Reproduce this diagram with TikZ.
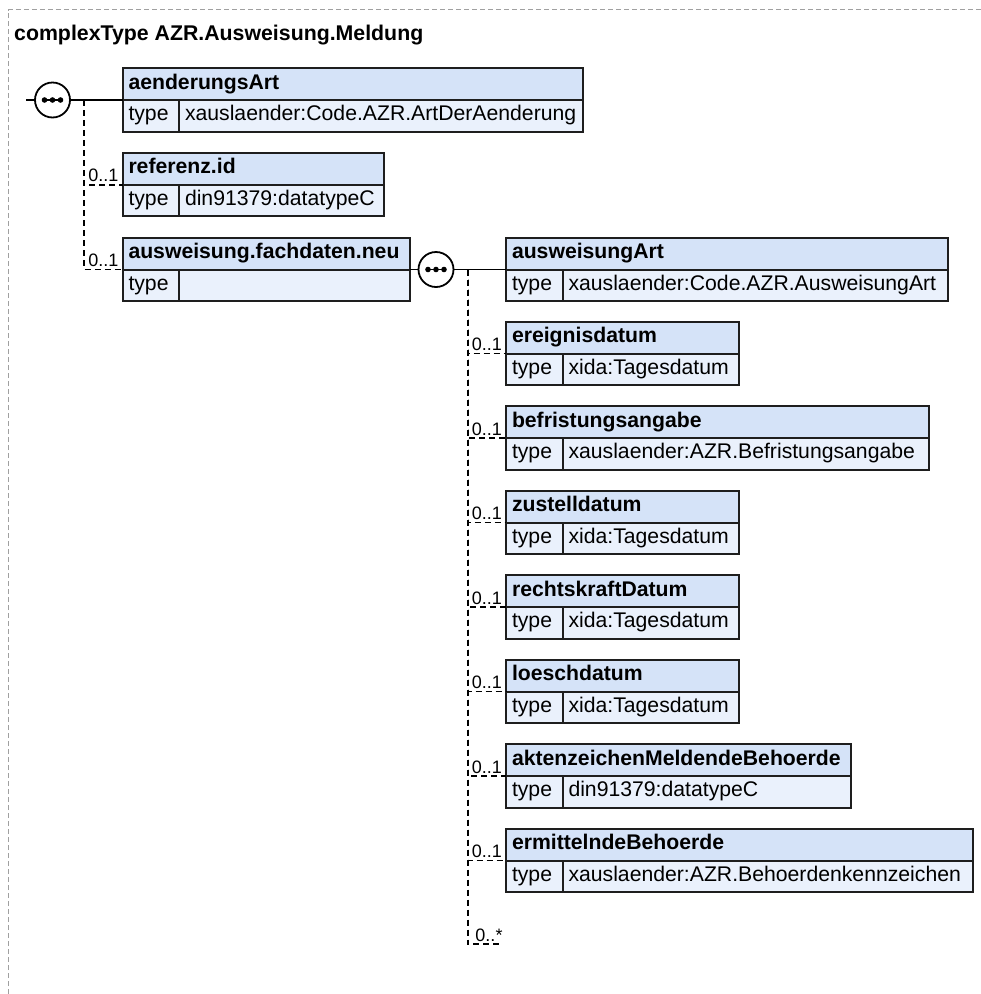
\documentclass[tikz,border=0pt]{standalone}
\usepackage{fontspec}
\setmainfont{Liberation Sans}
\definecolor{hfill}{HTML}{D5E3F8}
\definecolor{rfill}{HTML}{EAF1FC}
\definecolor{bcol}{HTML}{1E1E1E}
\definecolor{framecol}{HTML}{A0A0A0}
\tikzset{
  hdr/.style={draw=bcol, line width=2pt, fill=hfill, anchor=north west, outer sep=0pt,
    minimum height=32pt, inner xsep=6pt, inner ysep=0pt, align=left,
    font=\bfseries\fontsize{21.2}{25}\selectfont, text height=15pt, text depth=5pt},
  rowcell/.style={draw=bcol, line width=2pt, fill=rfill, anchor=north west, outer sep=0pt,
    minimum height=31.5pt, inner xsep=6pt, inner ysep=0pt, align=left,
    font=\fontsize{21.2}{25}\selectfont, text height=15pt, text depth=5pt},
  seqnode/.style={circle, draw=black, line width=1.8pt, fill=white, minimum size=35pt, inner sep=0pt},
  conn/.style={draw=black, line width=1.8pt},
  optconn/.style={draw=black, line width=1.8pt, dash pattern=on 6pt off 4pt},
  mult/.style={anchor=base east, inner sep=0pt, font=\fontsize{18}{20}\selectfont},
}
% #1 name, #2 left x, #3 top y, #4 right x, #5 title, #6 type
\newcommand{\elembox}[6]{%
  \node[hdr, minimum width={#4pt-#2pt}, text width={#4pt-#2pt-12pt}] (#1) at (#2,#3) {#5};
  \node[rowcell, minimum width=56.5pt, text width=44.5pt] (#1t) at (#1.south west) {type};
  \node[rowcell, minimum width={#4pt-#2pt-56.5pt}, text width={#4pt-#2pt-68.5pt}] (#1v) at (#1t.north east) {#6};
}
\newcommand{\seqdots}[1]{%
  \draw[line width=1.8pt] ([xshift=-8pt]#1.center) -- ([xshift=8pt]#1.center);
  \fill ([xshift=-8pt]#1.center) circle (2.8pt);
  \fill (#1.center) circle (2.8pt);
  \fill ([xshift=8pt]#1.center) circle (2.8pt);
}
\begin{document}
\begin{tikzpicture}[x=1pt, y=-1pt]
\fill[white] (0,0) rectangle (981,994);
\useasboundingbox (0,0) rectangle (981,994);
% outer frame
\draw[framecol, line width=1pt, dash pattern=on 5pt off 3pt] (8.5,994) -- (8.5,9.5) -- (981,9.5);
% title
\node[anchor=base west, inner sep=0pt, font=\bfseries\fontsize{21.3}{25}\selectfont] (title) at (14,40) {complexType AZR.Ausweisung.Meldung};

% left column
\elembox{aend}{122.5}{68}{583}{aenderungsArt}{xauslaender:Code.AZR.ArtDerAenderung}
\elembox{ref}{122.5}{152.75}{383.5}{referenz.id}{din91379:datatypeC}
\elembox{ausw}{122.5}{237.5}{410}{ausweisung.fachdaten.neu}{}

\coordinate (in1) at (26,100);
\node[seqnode] (c1) at (52.5,100) {};
\seqdots{c1}
\draw[conn] (in1) -- (c1.west);
\draw[conn] (c1.east) -- (aend.south west);
\coordinate (v1) at (84,100);
\draw[optconn] (v1) |- (ref.south west);
\draw[optconn] (v1) |- (ausw.south west);
\node[mult] (m1) at ([xshift=-4pt,yshift=3pt]ref.south west) {0..1};
\node[mult] (m2) at ([xshift=-4pt,yshift=3pt]ausw.south west) {0..1};

% right column
\elembox{aart}{506}{237.5}{948}{ausweisungArt}{xauslaender:Code.AZR.AusweisungArt}
\elembox{ereig}{506}{321.5}{739}{ereignisdatum}{xida:Tagesdatum}
\elembox{befr}{506}{406}{929}{befristungsangabe}{xauslaender:AZR.Befristungsangabe}
\elembox{zust}{506}{490.5}{739}{zustelldatum}{xida:Tagesdatum}
\elembox{rkd}{506}{575}{739}{rechtskraftDatum}{xida:Tagesdatum}
\elembox{loe}{506}{659.5}{739}{loeschdatum}{xida:Tagesdatum}
\elembox{akz}{506}{744}{851}{aktenzeichenMeldendeBehoerde}{din91379:datatypeC}
\elembox{erm}{506}{828.5}{973}{ermittelndeBehoerde}{xauslaender:AZR.Behoerdenkennzeichen}

\node[seqnode] (c2) at ([xshift=26pt]ausw.south east) {};
\seqdots{c2}
\draw[conn] (ausw.south east) -- (c2.west);
\draw[conn] (c2.east) -- (aart.south west);
\coordinate (v2) at (467.7,269.5);
\coordinate (anyend) at (502.7,944);
\foreach \n in {ereig,befr,zust,rkd,loe,akz,erm}{
  \draw[optconn] (v2) |- (\n.south west);
  \node[mult] (m-\n) at ([xshift=-4pt,yshift=3pt]\n.south west) {0..1};
}
\draw[optconn] (v2) |- (anyend);
\node[mult] (many) at ([yshift=3pt]anyend) {0..*};
\end{tikzpicture}
\end{document}
